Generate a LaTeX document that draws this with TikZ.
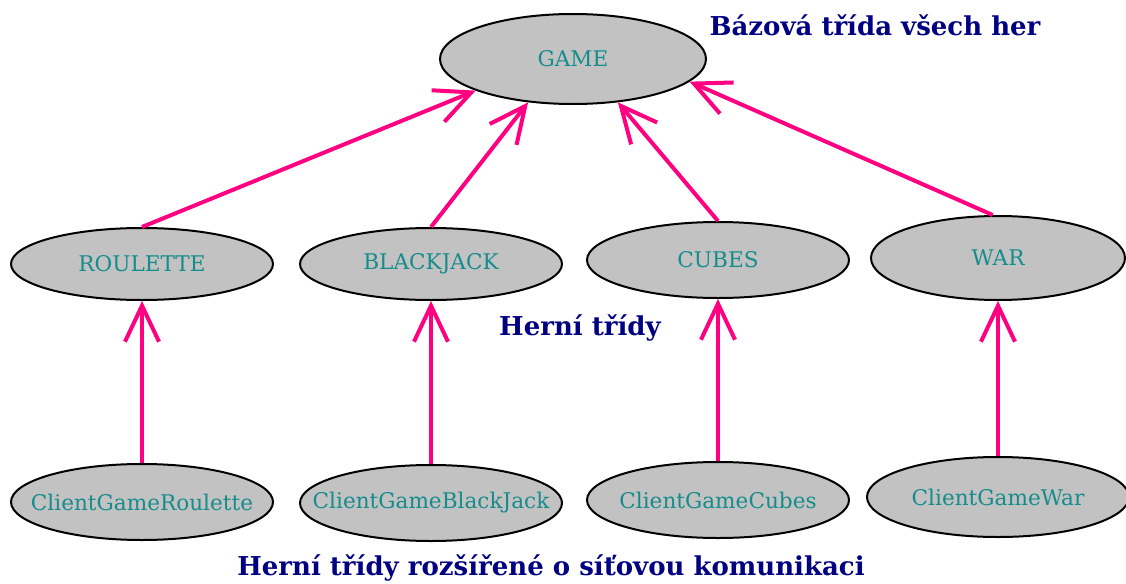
\documentclass[tikz,border=0pt]{standalone}
\usepackage{fontspec}
\setmainfont{DejaVu Serif}
\usetikzlibrary{shapes.geometric,arrows.meta}
\definecolor{clsgray}{RGB}{194,194,194}
\definecolor{clsteal}{RGB}{22,140,140}
\definecolor{titlenavy}{RGB}{0,0,128}
\definecolor{linkpink}{RGB}{255,0,128}

\begin{document}
\begin{tikzpicture}[x=0.5pt,y=-0.5pt,
    cls/.style={ellipse, draw=black, line width=1pt, fill=clsgray, text=clsteal,
      font=\fontsize{10.8}{12}\selectfont, inner xsep=-24pt, inner ysep=0pt,
      minimum width=131pt, minimum height=38pt},
    caption/.style={text=titlenavy, font=\bfseries\fontsize{13}{15}\selectfont},
    inherit/.style={draw=linkpink, line width=2pt, -{Straight Barb[length=18pt,width=17pt]}}]
    \useasboundingbox (0,0) rectangle (1126,584);
    % Base class
    \node[cls, minimum width=133pt, minimum height=45pt] (game) at (573,59) {GAME};
    \node[caption] (basecap) at (875,25) {Bázová třída všech her};
    % Game classes
    \node[cls, minimum height=36pt] (roul) at (142,264) {ROULETTE};
    \node[cls, minimum height=36pt] (black) at (431,264) {BLACKJACK};
    \node[cls] (cubes) at (718,260) {CUBES};
    \node[cls, minimum width=127pt, minimum height=42pt] (war) at (998,258) {WAR};
    \node[caption] (gamecap) at (580,328) {Herní třídy};
    % Client classes
    \node[cls] (cgroul) at (142,502) {ClientGameRoulette};
    \node[cls] (cgblack) at (431,503) {ClientGameBlackJack};
    \node[cls] (cgcubes) at (718,500) {ClientGameCubes};
    \node[cls, minimum height=40pt] (cgwar) at (998,497) {ClientGameWar};
    \node[caption] (netcap) at (551,568) {Herní třídy rozšířené o síťovou komunikaci};
    % Inheritance
    \draw[inherit] (roul.north) -- (game.-162);
    \draw[inherit] (black.north) -- (game.-136);
    \draw[inherit] (cubes.north) -- (game.-44);
    \draw[inherit] (war.97) -- (game.-11);
    \draw[inherit] (cgroul.north) -- (roul.south);
    \draw[inherit] (cgblack.north) -- (black.south);
    \draw[inherit] (cgcubes.north) -- (cubes.south);
    \draw[inherit] (cgwar.north) -- (war.south);
\end{tikzpicture}
\end{document}
